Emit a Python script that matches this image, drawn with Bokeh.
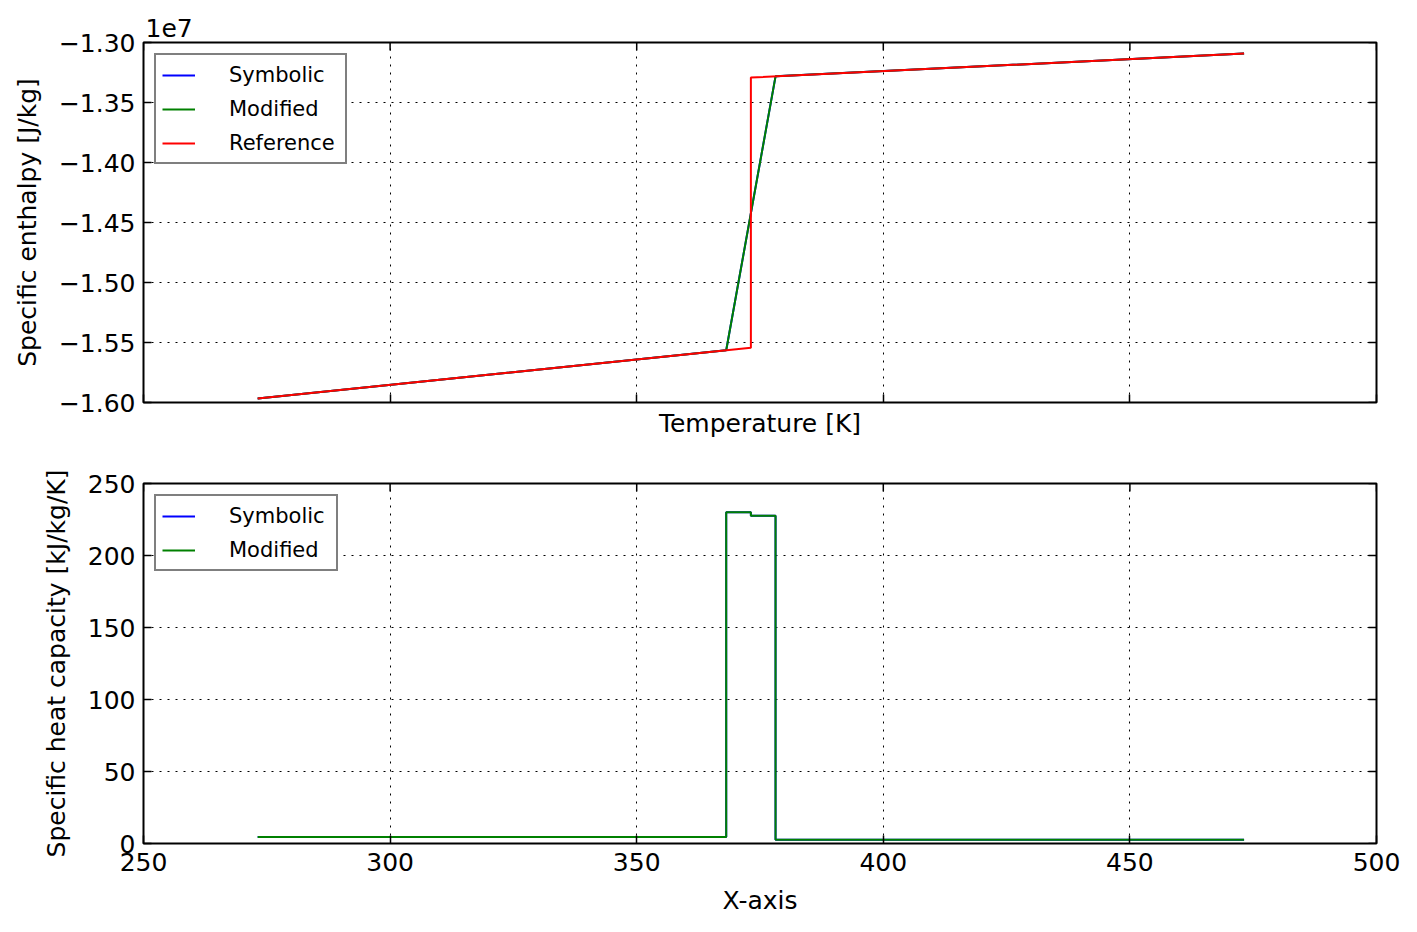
import math
from bokeh.plotting import figure
from bokeh.layouts import column
from bokeh.models import Range1d, FixedTicker, CustomJSTickFormatter
from bokeh.embed import file_html
from bokeh.resources import INLINE

# ---- data ----
T_sym = [273.15, 368.15, 378.15, 473.15]
h_sym = [-1.5967e7, -1.5565e7, -1.3282e7, -1.3092e7]
T_mod = [273.15, 368.15, 378.15, 473.15]
h_mod = [-1.5967e7, -1.5565e7, -1.3282e7, -1.3092e7]
T_ref = [273.15, 373.15, 373.15, 473.15]
h_ref = [-1.5967e7, -1.5544e7, -1.3292e7, -1.3092e7]

T_cp = [273.15, 368.15, 373.15, 378.15, 473.15]
cp_sym = [4.6, 230.1, 227.6, 2.6, 2.6]
cp_mod = [4.6, 230.1, 227.6, 2.6, 2.6]

x_ticks = [250, 300, 350, 400, 450, 500]
h_ticks = [-1.60e7, -1.55e7, -1.50e7, -1.45e7, -1.40e7, -1.35e7, -1.30e7]
cp_ticks = [0, 50, 100, 150, 200, 250]

X_MIN, X_MAX = 250, 500
H_MIN, H_MAX = -1.60e7, -1.30e7
CP_MIN, CP_MAX = 0, 250

FONT = "DejaVu Sans"
TICK_FS = "25px"
LEG_FS = "21px"

xr = Range1d(X_MIN, X_MAX)


def style_axis(ax, hide_labels=False):
    ax.axis_line_color = None
    ax.major_tick_in = 8
    ax.major_tick_out = 0
    ax.major_tick_line_color = "black"
    ax.major_tick_line_width = 1.5
    ax.minor_tick_line_color = None
    ax.major_label_text_font = FONT
    ax.major_label_text_color = "black"
    ax.axis_label_text_font = FONT
    ax.axis_label_text_font_size = TICK_FS
    ax.axis_label_text_font_style = "normal"
    ax.axis_label_text_color = "black"
    if hide_labels:
        ax.major_label_text_font_size = "0px"
        ax.major_label_text_color = None
        ax.major_label_standoff = 0
    else:
        ax.major_label_text_font_size = TICK_FS


def base_style(p, yticks, ymax):
    p.outline_line_color = "black"
    p.outline_line_width = 2
    p.background_fill_color = "white"
    p.border_fill_color = "white"
    p.grid.grid_line_color = "black"
    p.grid.grid_line_dash = "2 6"
    p.grid.grid_line_width = 1
    p.xaxis.ticker = FixedTicker(ticks=x_ticks)
    p.yaxis.ticker = FixedTicker(ticks=yticks)
    p.xgrid.ticker = FixedTicker(ticks=x_ticks)
    p.ygrid.ticker = FixedTicker(ticks=yticks)
    # inward ticks on the top and right edges (matplotlib classic style)
    p.ray(x=x_ticks, y=[ymax] * len(x_ticks), length=8, length_units="screen",
          angle=-math.pi / 2, line_color="black", line_width=1.5)
    p.ray(x=[X_MAX] * len(yticks), y=yticks, length=8, length_units="screen",
          angle=math.pi, line_color="black", line_width=1.5)


def style_legend(p, lw):
    lg = p.legend[0]
    lg.location = "top_left"
    lg.margin = 11
    lg.padding = 6
    lg.spacing = 7
    lg.glyph_width = 33
    lg.glyph_height = 20
    lg.label_height = 27
    lg.label_width = lw
    lg.label_standoff = 34
    lg.label_text_font = FONT
    lg.label_text_font_size = LEG_FS
    lg.label_text_color = "black"
    lg.border_line_color = "black"
    lg.border_line_width = 2
    lg.background_fill_color = "white"
    lg.background_fill_alpha = 1.0


# ---- top: enthalpy ----
p1 = figure(width=1408, height=448, x_range=xr, y_range=Range1d(H_MIN, H_MAX),
            output_backend="svg", toolbar_location=None,
            min_border_left=143, min_border_right=32, min_border_top=42, min_border_bottom=46)
p1.line(T_sym, h_sym, color="#0000ff", line_width=2, legend_label="Symbolic")
p1.line(T_mod, h_mod, color="#008000", line_width=2, legend_label="Modified")
p1.line(T_ref, h_ref, color="#ff0000", line_width=2, legend_label="Reference")
style_axis(p1.xaxis[0], hide_labels=True)
style_axis(p1.yaxis[0])
p1.xaxis[0].axis_label = "Temperature [K]"
p1.xaxis[0].axis_label_standoff = 6
p1.yaxis[0].axis_label = "Specific enthalpy [J/kg]"
p1.yaxis[0].axis_label_standoff = 14
p1.yaxis[0].major_label_standoff = 8
p1.yaxis[0].formatter = CustomJSTickFormatter(
    code="return (tick/1e7).toFixed(2).replace('-', '\u2212');")
base_style(p1, h_ticks, H_MAX)
style_legend(p1, 110)
p1.title.text = "1e7"
p1.title.align = "left"
p1.title.offset = 2
p1.title.standoff = 12
p1.title.text_font = FONT
p1.title.text_font_size = TICK_FS
p1.title.text_font_style = "normal"
p1.title.text_color = "black"

# ---- bottom: heat capacity ----
p2 = figure(width=1408, height=476, x_range=xr, y_range=Range1d(CP_MIN, CP_MAX),
            output_backend="svg", toolbar_location=None,
            min_border_left=143, min_border_right=32, min_border_top=35, min_border_bottom=81)
p2.step(T_cp, cp_sym, mode="after", color="#0000ff", line_width=2, legend_label="Symbolic")
p2.step(T_cp, cp_mod, mode="after", color="#008000", line_width=2, legend_label="Modified")
style_axis(p2.xaxis[0])
style_axis(p2.yaxis[0])
p2.xaxis[0].axis_label = "X-axis"
p2.xaxis[0].major_label_standoff = 9
p2.xaxis[0].axis_label_standoff = 12
p2.yaxis[0].axis_label = "Specific heat capacity [kJ/kg/K]"
p2.yaxis[0].axis_label_standoff = 14
p2.yaxis[0].major_label_standoff = 8
base_style(p2, cp_ticks, CP_MAX)
style_legend(p2, 101)

layout = column(p1, p2, spacing=0)
open("out.html", "w").write(file_html(layout, INLINE))
